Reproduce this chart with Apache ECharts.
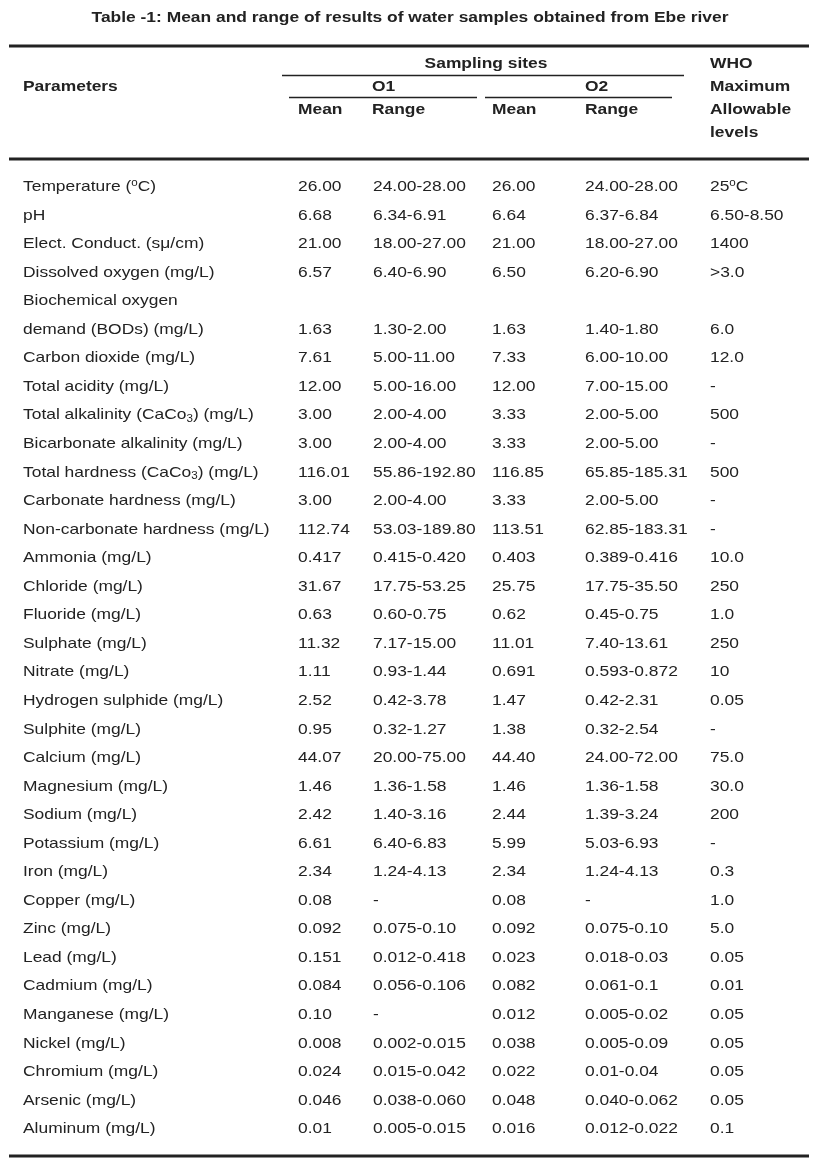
<!DOCTYPE html>
<html><head><meta charset="utf-8">
<script src="https://cdn.jsdelivr.net/npm/echarts@6/dist/echarts.min.js"></script>
<style>html,body{margin:0;padding:0;background:#fff}#c{width:818px;height:1165px}</style>
</head><body><div id="c"></div>
<script>
// ---- data ----
const titleText = 'Table -1: Mean and range of results of water samples obtained from Ebe river';
const parameters = [
  'Temperature ({sup|o}C)', 'pH', 'Elect. Conduct. (sμ/cm)', 'Dissolved oxygen (mg/L)',
  'Biochemical oxygen', 'demand (BODs) (mg/L)', 'Carbon dioxide (mg/L)', 'Total acidity (mg/L)',
  'Total alkalinity (CaCo{sub|3}) (mg/L)', 'Bicarbonate alkalinity (mg/L)', 'Total hardness (CaCo{sub|3}) (mg/L)',
  'Carbonate hardness (mg/L)', 'Non-carbonate hardness (mg/L)', 'Ammonia (mg/L)', 'Chloride (mg/L)',
  'Fluoride (mg/L)', 'Sulphate (mg/L)', 'Nitrate (mg/L)', 'Hydrogen sulphide (mg/L)', 'Sulphite (mg/L)',
  'Calcium (mg/L)', 'Magnesium (mg/L)', 'Sodium (mg/L)', 'Potassium (mg/L)', 'Iron (mg/L)',
  'Copper (mg/L)', 'Zinc (mg/L)', 'Lead (mg/L)', 'Cadmium (mg/L)', 'Manganese (mg/L)',
  'Nickel (mg/L)', 'Chromium (mg/L)', 'Arsenic (mg/L)', 'Aluminum (mg/L)'
];
const o1Mean = ['26.00','6.68','21.00','6.57','','1.63','7.61','12.00','3.00','3.00','116.01','3.00','112.74','0.417','31.67','0.63','11.32','1.11','2.52','0.95','44.07','1.46','2.42','6.61','2.34','0.08','0.092','0.151','0.084','0.10','0.008','0.024','0.046','0.01'];
const o1Range = ['24.00-28.00','6.34-6.91','18.00-27.00','6.40-6.90','','1.30-2.00','5.00-11.00','5.00-16.00','2.00-4.00','2.00-4.00','55.86-192.80','2.00-4.00','53.03-189.80','0.415-0.420','17.75-53.25','0.60-0.75','7.17-15.00','0.93-1.44','0.42-3.78','0.32-1.27','20.00-75.00','1.36-1.58','1.40-3.16','6.40-6.83','1.24-4.13','-','0.075-0.10','0.012-0.418','0.056-0.106','-','0.002-0.015','0.015-0.042','0.038-0.060','0.005-0.015'];
const o2Mean = ['26.00','6.64','21.00','6.50','','1.63','7.33','12.00','3.33','3.33','116.85','3.33','113.51','0.403','25.75','0.62','11.01','0.691','1.47','1.38','44.40','1.46','2.44','5.99','2.34','0.08','0.092','0.023','0.082','0.012','0.038','0.022','0.048','0.016'];
const o2Range = ['24.00-28.00','6.37-6.84','18.00-27.00','6.20-6.90','','1.40-1.80','6.00-10.00','7.00-15.00','2.00-5.00','2.00-5.00','65.85-185.31','2.00-5.00','62.85-183.31','0.389-0.416','17.75-35.50','0.45-0.75','7.40-13.61','0.593-0.872','0.42-2.31','0.32-2.54','24.00-72.00','1.36-1.58','1.39-3.24','5.03-6.93','1.24-4.13','-','0.075-0.10','0.018-0.03','0.061-0.1','0.005-0.02','0.005-0.09','0.01-0.04','0.040-0.062','0.012-0.022'];
const whoLimit = ['25{sup|o}C','6.50-8.50','1400','>3.0','','6.0','12.0','-','500','-','500','-','-','10.0','250','1.0','250','10','0.05','-','75.0','30.0','200','-','0.3','1.0','5.0','0.05','0.01','0.05','0.05','0.05','0.05','0.1'];
const headerSites = 'Sampling sites';
const headerParams = 'Parameters';
const siteNames = ['O1', 'O2'];
const subHeads = ['Mean', 'Range', 'Mean', 'Range'];
const whoHead = ['WHO', 'Maximum', 'Allowable', 'levels'];

// ---- layout ----
const SX = 1.16;
const INK = '#222';
const FONT = '"Liberation Sans", Arial, Helvetica, sans-serif';
const COL_X = [23, 298, 373, 492, 585, 710];
const columns = [parameters, o1Mean, o1Range, o2Mean, o2Range, whoLimit];
const RICH = {
  sup: { fontSize: 10, verticalAlign: 'top', fontFamily: FONT },
  sub: { fontSize: 10, verticalAlign: 'bottom', fontFamily: FONT }
};

function txt(t, x, y, opts) {
  opts = opts || {};
  return {
    type: 'text', x: x, y: y, scaleX: SX, silent: true,
    style: {
      text: t, fill: INK, fontFamily: FONT, fontSize: opts.size || 15,
      fontWeight: opts.bold ? 'bold' : 'normal',
      align: opts.align || 'left', verticalAlign: 'middle'
    }
  };
}
function rule(x1, x2, y, w) {
  return { type: 'line', silent: true, shape: { x1: x1, y1: y, x2: x2, y2: y }, style: { stroke: INK, lineWidth: w } };
}

const graphics = [
  txt(titleText, 410, 18, { bold: true, align: 'center' }),
  rule(9, 809, 46, 3),
  rule(282, 684, 75.5, 1.5),
  rule(289, 477, 97.5, 1.5),
  rule(485, 672, 97.5, 1.5),
  rule(9, 809, 159, 3),
  rule(9, 809, 1156, 3),
  txt(headerSites, 486, 64, { bold: true, align: 'center' }),
  txt(headerParams, 23, 87, { bold: true }),
  txt(siteNames[0], 372, 87, { bold: true }),
  txt(siteNames[1], 585, 87, { bold: true }),
  txt(subHeads[0], 298, 110, { bold: true }),
  txt(subHeads[1], 372, 110, { bold: true }),
  txt(subHeads[2], 492, 110, { bold: true }),
  txt(subHeads[3], 585, 110, { bold: true }),
  txt(whoHead[0], 710, 64, { bold: true }),
  txt(whoHead[1], 710, 87, { bold: true }),
  txt(whoHead[2], 710, 110, { bold: true }),
  txt(whoHead[3], 710, 133, { bold: true })
];

const chart = echarts.init(document.getElementById('c'), null, { renderer: 'canvas' });
chart.setOption({
  animation: false,
  backgroundColor: '#fff',
  grid: { left: 0, right: 0, top: 172.7, bottom: 21.7, containLabel: false },
  xAxis: { type: 'value', min: 0, max: 818, show: false },
  yAxis: { type: 'category', data: parameters, inverse: true, show: false },
  graphic: graphics,
  series: [{
    type: 'custom',
    clip: false,
    silent: true,
    data: parameters.map((_, i) => [0, i]),
    renderItem: function (params, api) {
      const i = api.value(1);
      const children = [];
      columns.forEach((col, c) => {
        const s = col[i];
        if (!s) return;
        const pt = api.coord([COL_X[c], i]);
        children.push({
          type: 'text', x: pt[0], y: pt[1], scaleX: SX,
          style: {
            text: s, rich: RICH, fill: INK, fontFamily: FONT, fontSize: 15,
            lineHeight: 18, align: 'left', verticalAlign: 'middle'
          }
        });
      });
      return { type: 'group', children: children };
    }
  }]
});
</script>
</body></html>
